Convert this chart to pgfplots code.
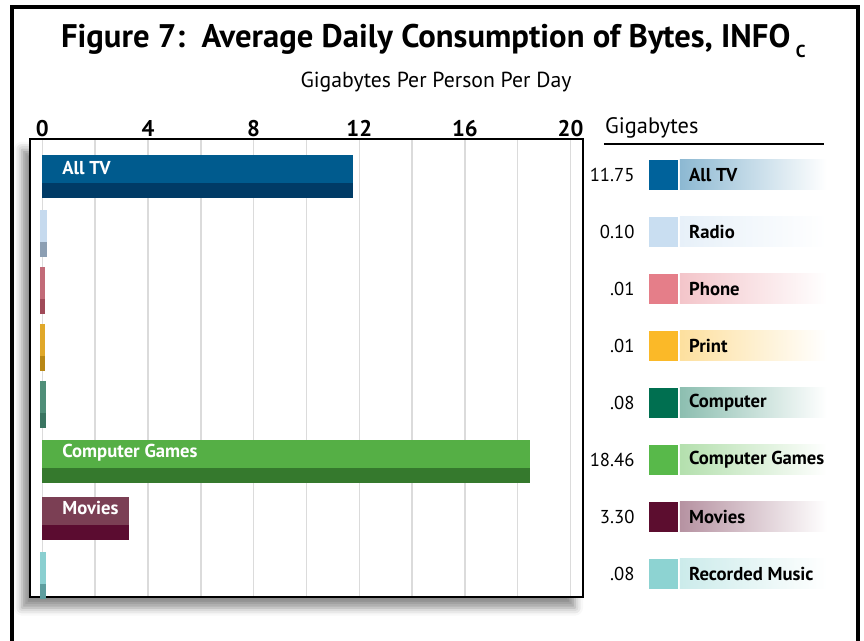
\documentclass[border=0pt]{standalone}
\usepackage{pgfplots}
\pgfplotsset{compat=1.18}
\usepackage{fontspec}
\setmainfont{PT Sans}
\usetikzlibrary{shadows.blur}

% bar faces (top / front) and legend swatches
\definecolor{tvtop}{HTML}{005B8E}\definecolor{tvfront}{HTML}{003B66}\definecolor{tvsw}{HTML}{00629B}
\definecolor{radtop}{HTML}{C6DAEE}\definecolor{radfront}{HTML}{8C9FB3}\definecolor{radsw}{HTML}{C9DEF1}
\definecolor{phtop}{HTML}{C26B78}\definecolor{phfront}{HTML}{A04A58}\definecolor{phsw}{HTML}{E57E89}
\definecolor{prtop}{HTML}{E0A82A}\definecolor{prfront}{HTML}{B88715}\definecolor{prsw}{HTML}{FBB928}
\definecolor{cotop}{HTML}{4F8E78}\definecolor{cofront}{HTML}{3A7561}\definecolor{cosw}{HTML}{006F50}
\definecolor{cgtop}{HTML}{55AF45}\definecolor{cgfront}{HTML}{35792D}\definecolor{cgsw}{HTML}{58B94A}
\definecolor{mvtop}{HTML}{7B3F54}\definecolor{mvfront}{HTML}{5B0C30}\definecolor{mvsw}{HTML}{5C0D2F}
\definecolor{rmtop}{HTML}{8ACFD0}\definecolor{rmfront}{HTML}{5E9E9F}\definecolor{rmsw}{HTML}{8DD3D2}

\newcommand\legfont{\fontsize{14}{16}\selectfont}

\pgfplotsset{
  topface/.style={xbar, bar width=0.49, bar shift=0pt, fill=#1, draw=none},
  frontface/.style={xbar, bar width=0.26, bar shift=0pt, fill=#1, draw=none},
  thin/.style={draw=#1, line width=3pt},
}

% row, value text, name, swatch
\newcommand\legrow[4]{%
  \node[anchor=east, font=\legfont, inner sep=0pt] at (axis cs:22.43,#1) {#2};
  \fill[#4] ([yshift=-11.25pt]axis cs:22.96,#1) rectangle ([yshift=11.25pt]axis cs:24.06,#1);
  \shade[left color=#4!45!white, right color=white] ([yshift=-11.25pt]axis cs:24.14,#1) rectangle ([yshift=11.25pt]axis cs:29.7,#1);
  \node[anchor=west, font=\legfont\bfseries, inner sep=0pt] at (axis cs:24.48,#1) {#3};
}

\begin{document}
\begin{tikzpicture}
\useasboundingbox (0,0) rectangle (648pt,480.75pt);
\draw[line width=3pt] (9pt,0) -- (9pt,475.5pt) -- (643.5pt,475.5pt) -- (643.5pt,0);
\node[anchor=base, font=\bfseries\fontsize{24.5}{28}\selectfont, inner sep=0pt] at (325pt,444.75pt)
  {Figure 7:\ \ Average Daily Consumption of Bytes, INFO\,\raisebox{-7pt}{\fontsize{13}{14}\selectfont C}};
\node[anchor=base, font=\fontsize{16.3}{18}\selectfont, inner sep=0pt] at (327pt,414.75pt) {Gigabytes Per Person Per Day};

\begin{axis}[at={(22.5pt,33pt)}, anchor=south west, scale only axis,
  width=414.75pt, height=343.5pt,
  xmin=-0.466, xmax=20.47, ymin=0.374, ymax=8.409, y dir=reverse,
  xtick={0,4,8,12,16,20}, xticklabels={0,4,8,12,16,20},
  minor xtick={2,6,10,14,18}, ytick=\empty,
  xticklabel pos=upper,
  xticklabel style={font=\bfseries\fontsize{17}{18}\selectfont, yshift=-2pt},
  tick style={draw=none},
  grid=both, major grid style={draw=black!14, line width=1.1pt},
  minor grid style={draw=black!14, line width=1.1pt},
  axis line style={line width=1.9pt},
  axis background/.style={fill=white, blur shadow={shadow xshift=-6pt, shadow yshift=-8pt, shadow blur radius=6pt, shadow opacity=45}},
  clip=false]

% All TV
\addplot[frontface=tvfront] coordinates {(11.75,1.28)};
\addplot[topface=tvtop] coordinates {(11.75,0.905)};
% Radio
\addplot[frontface=radfront, thin=radfront] coordinates {(0.10,2.28)};
\addplot[topface=radtop, thin=radtop] coordinates {(0.10,1.905)};
% Phone
\addplot[frontface=phfront, thin=phfront] coordinates {(0.01,3.28)};
\addplot[topface=phtop, thin=phtop] coordinates {(0.01,2.905)};
% Print
\addplot[frontface=prfront, thin=prfront] coordinates {(0.01,4.28)};
\addplot[topface=prtop, thin=prtop] coordinates {(0.01,3.905)};
% Computer
\addplot[frontface=cofront, thin=cofront] coordinates {(0.08,5.28)};
\addplot[topface=cotop, thin=cotop] coordinates {(0.08,4.905)};
% Computer Games
\addplot[frontface=cgfront] coordinates {(18.46,6.28)};
\addplot[topface=cgtop] coordinates {(18.46,5.905)};
% Movies
\addplot[frontface=mvfront] coordinates {(3.30,7.28)};
\addplot[topface=mvtop] coordinates {(3.30,6.905)};
% Recorded Music
\addplot[frontface=rmfront, thin=rmfront] coordinates {(0.08,8.28)};
\addplot[topface=rmtop, thin=rmtop] coordinates {(0.08,7.905)};

\node[anchor=west, text=white, font=\legfont\bfseries, inner sep=0pt] at (axis cs:0.75,0.88) {All TV};
\node[anchor=west, text=white, font=\legfont\bfseries, inner sep=0pt] at (axis cs:0.75,5.88) {Computer Games};
\node[anchor=west, text=white, font=\legfont\bfseries, inner sep=0pt] at (axis cs:0.75,6.84) {Movies};

\node[anchor=base west, font=\fontsize{16.8}{18}\selectfont, inner sep=0pt] at (axis cs:21.3,0.286) {Gigabytes};
\draw[line width=1.5pt] (axis cs:21.26,0.462) -- (axis cs:29.59,0.462);

\legrow{1}{11.75}{All TV}{tvsw}
\legrow{2}{0.10}{Radio}{radsw}
\legrow{3}{.01}{Phone}{phsw}
\legrow{4}{.01}{Print}{prsw}
\legrow{5}{.08}{Computer}{cosw}
\legrow{6}{18.46}{Computer Games}{cgsw}
\legrow{7}{3.30}{Movies}{mvsw}
\legrow{8}{.08}{Recorded Music}{rmsw}
\end{axis}
\end{tikzpicture}
\end{document}
